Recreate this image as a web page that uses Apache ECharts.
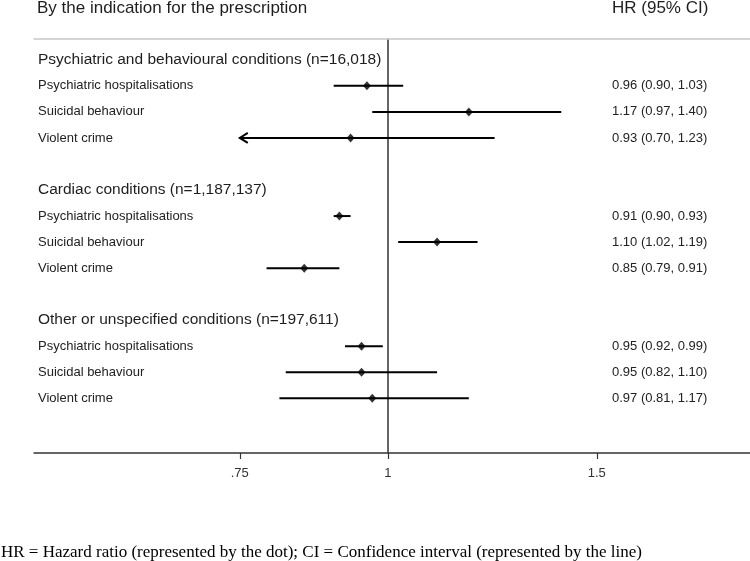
<!DOCTYPE html>
<html>
<head>
<meta charset="utf-8">
<script src="https://cdn.jsdelivr.net/npm/echarts@6/dist/echarts.min.js"></script>
<style>
html,body{margin:0;padding:0;background:#fff;}
#chart{width:750px;height:561px;}
</style>
</head>
<body>
<div id="chart"></div>
<script>
// ---- data ----
const groupLabels = [
  'Psychiatric and behavioural conditions (n=16,018)',
  'Cardiac conditions (n=1,187,137)',
  'Other or unspecified conditions (n=197,611)'
];
const outcomeLabels = ['Psychiatric hospitalisations', 'Suicidal behaviour', 'Violent crime'];
const hrValues   = [0.96, 1.17, 0.93,  0.91, 1.10, 0.85,  0.95, 0.95, 0.97];
const ciLower    = [0.90, 0.97, 0.70,  0.90, 1.02, 0.79,  0.92, 0.82, 0.81];
const ciUpper    = [1.03, 1.40, 1.23,  0.93, 1.19, 0.91,  0.99, 1.10, 1.17];
const tickValues = [0.75, 1, 1.5];
const tickLabels = ['.75', '1', '1.5'];
const titleText = 'By the indication for the prescription';
const hrHeader = 'HR (95% CI)';
const footnote = 'HR = Hazard ratio (represented by the dot); CI = Confidence interval (represented by the line)';

// ---- derived ----
const fmt = v => v.toFixed(2);
const X_MIN = Math.log(0.5030);
const X_MAX = Math.log(2.0195);
const clipLow = Math.log(tickValues[0]);

const headerRows = groupLabels.map((g, gi) => ({ value: [0, gi * 5], name: g }));
const rowData = [];
const pointData = [];
hrValues.forEach((hr, i) => {
  const g = Math.floor(i / 3), k = i % 3;
  const y = g * 5 + 1 + k;
  rowData.push({
    value: [Math.log(ciLower[i]), Math.log(ciUpper[i]), y],
    label: outcomeLabels[k],
    txt: fmt(hr) + ' (' + fmt(ciLower[i]) + ', ' + fmt(ciUpper[i]) + ')'
  });
  pointData.push([Math.log(hr), y]);
});

const SANS = '"Liberation Sans", Arial, sans-serif';
const SERIF = '"Liberation Serif", "Times New Roman", serif';
const LABEL_X = 38;
const VALUE_X = 612;

const chart = echarts.init(document.getElementById('chart'), null, { renderer: 'canvas' });
chart.setOption({
  animation: false,
  backgroundColor: '#fff',
  title: [
    { text: titleText, left: 37, top: 0, padding: 0,
      textStyle: { fontSize: 17, fontWeight: 'normal', color: '#1e1e1e', fontFamily: SANS } },
    { text: hrHeader, left: VALUE_X, top: 0, padding: 0,
      textStyle: { fontSize: 17, fontWeight: 'normal', color: '#1e1e1e', fontFamily: SANS } },
    { text: footnote, left: 1, top: 544, padding: 0,
      textStyle: { fontSize: 17, fontWeight: 'normal', color: '#000', fontFamily: SERIF } }
  ],
  grid: { left: 34, right: 0, top: 39, bottom: 108, containLabel: false },
  xAxis: [
    {
      type: 'value', min: X_MIN, max: X_MAX, position: 'bottom',
      axisLine: { show: true, onZero: false, lineStyle: { color: '#333', width: 1.5 } },
      axisTick: { show: true, length: 6, customValues: tickValues.map(Math.log), lineStyle: { color: '#333', width: 1.2 } },
      axisLabel: {
        show: true, margin: 14, fontSize: 13, color: '#333', fontFamily: SANS,
        customValues: tickValues.map(Math.log),
        formatter: v => {
          let best = 0;
          tickValues.forEach((t, i) => { if (Math.abs(Math.log(t) - v) < Math.abs(Math.log(tickValues[best]) - v)) best = i; });
          return tickLabels[best];
        }
      },
      splitLine: { show: false }
    },
    {
      type: 'value', min: X_MIN, max: X_MAX, position: 'top',
      axisLine: { show: true, onZero: false, lineStyle: { color: '#c8c8c8', width: 1.5 } },
      axisTick: { show: false }, axisLabel: { show: false }, splitLine: { show: false }
    }
  ],
  yAxis: {
    type: 'value', inverse: true, min: -0.8, max: 15.1,
    axisLine: { show: true, onZero: true, lineStyle: { color: '#333', width: 1.5 } },
    axisTick: { show: false }, axisLabel: { show: false }, splitLine: { show: false }
  },
  series: [
    {
      type: 'custom', name: 'headers', data: headerRows,
      renderItem: (params, api) => {
        const y = api.coord([0, api.value(1)])[1];
        return {
          type: 'text',
          style: { text: headerRows[params.dataIndex].name, x: LABEL_X, y: y,
                   verticalAlign: 'middle', align: 'left',
                   fontSize: 15.5, fontFamily: SANS, fill: '#1e1e1e' }
        };
      }
    },
    {
      type: 'custom', name: 'rows', data: rowData,
      renderItem: (params, api) => {
        const d = rowData[params.dataIndex];
        const lo = api.value(0), hi = api.value(1), yv = api.value(2);
        const y = api.coord([0, yv])[1];
        const truncated = lo < clipLow;
        const x1 = api.coord([truncated ? clipLow : lo, yv])[0];
        const x2 = api.coord([hi, yv])[0];
        const children = [
          { type: 'text', style: { text: d.label, x: LABEL_X, y: y, verticalAlign: 'middle', align: 'left',
              fontSize: 13, fontFamily: SANS, fill: '#222' } },
          { type: 'text', style: { text: d.txt, x: VALUE_X, y: y, verticalAlign: 'middle', align: 'left',
              fontSize: 13, fontFamily: SANS, fill: '#222' } },
          { type: 'line', shape: { x1: x1, y1: y, x2: x2, y2: y }, style: { stroke: '#000', lineWidth: 2 } }
        ];
        if (truncated) {
          children.push({ type: 'polyline', shape: { points: [[x1 + 8, y - 5], [x1, y], [x1 + 8, y + 5]] },
            style: { stroke: '#000', lineWidth: 2, fill: null } });
        }
        return { type: 'group', children: children };
      },
      z: 3
    },
    {
      type: 'scatter', name: 'HR', data: pointData,
      symbol: 'diamond', symbolSize: [8, 9],
      itemStyle: { color: '#000' }, z: 4
    }
  ]
});
</script>
</body>
</html>
